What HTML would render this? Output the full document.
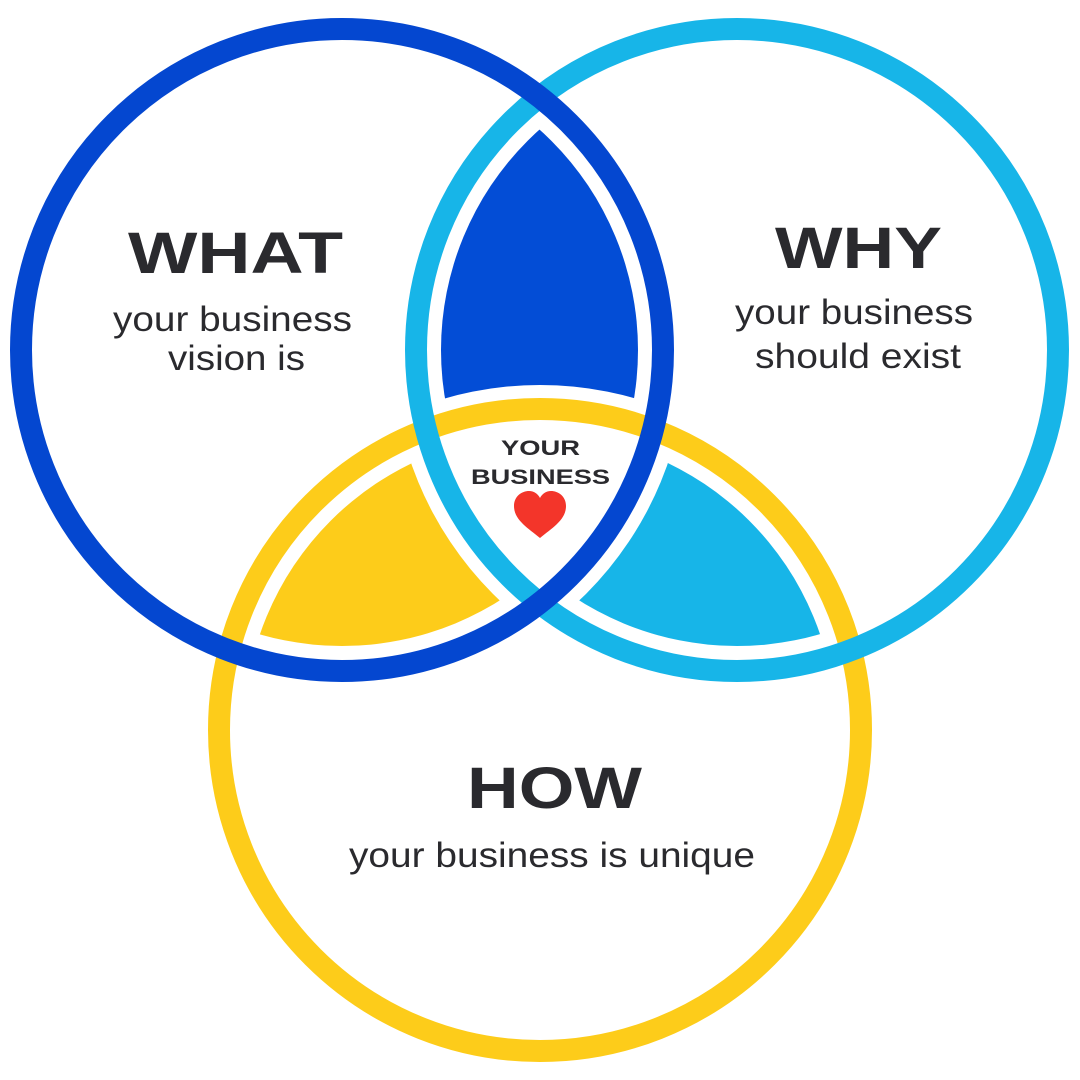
<!DOCTYPE html>
<html><head><meta charset="utf-8"><style>
html,body{margin:0;padding:0;background:#fff}
svg{display:block}
</style></head><body>
<svg width="1080" height="1080" viewBox="0 0 1080 1080" xmlns="http://www.w3.org/2000/svg">
<defs>
<clipPath id="cA"><circle cx="342" cy="350" r="296"/></clipPath>
<clipPath id="cB"><circle cx="737" cy="350" r="296"/></clipPath>
<clipPath id="cC"><circle cx="540" cy="730" r="296"/></clipPath>
<mask id="nC"><rect width="1080" height="1080" fill="#fff"/><circle cx="540" cy="730" r="345" fill="#000"/></mask>
<mask id="nB"><rect width="1080" height="1080" fill="#fff"/><circle cx="737" cy="350" r="345" fill="#000"/></mask>
<mask id="nA"><rect width="1080" height="1080" fill="#fff"/><circle cx="342" cy="350" r="345" fill="#000"/></mask>
</defs>
<rect width="1080" height="1080" fill="#fff"/>
<g clip-path="url(#cA)"><g clip-path="url(#cB)"><rect width="1080" height="1080" fill="#034DD6" mask="url(#nC)"/></g></g>
<g clip-path="url(#cA)"><g clip-path="url(#cC)"><rect width="1080" height="1080" fill="#FDCC1A" mask="url(#nB)"/></g></g>
<g clip-path="url(#cB)"><g clip-path="url(#cC)"><rect width="1080" height="1080" fill="#17B5E8" mask="url(#nA)"/></g></g>
<circle cx="540" cy="730" r="321" fill="none" stroke="#FDCC1A" stroke-width="22"/>
<circle cx="737" cy="350" r="321" fill="none" stroke="#17B5E8" stroke-width="22"/>
<circle cx="342" cy="350" r="321" fill="none" stroke="#0447D0" stroke-width="22"/>
<g font-family="Liberation Sans, sans-serif" fill="#2a2a2e" lengthAdjust="spacingAndGlyphs">
<text x="128" y="273" font-size="58" font-weight="bold" textLength="215" lengthAdjust="spacingAndGlyphs">WHAT</text>
<text x="113" y="331" font-size="35" textLength="239" lengthAdjust="spacingAndGlyphs">your business</text>
<text x="168" y="370" font-size="35" textLength="137" lengthAdjust="spacingAndGlyphs">vision is</text>
<text x="775" y="268" font-size="58" font-weight="bold" textLength="167" lengthAdjust="spacingAndGlyphs">WHY</text>
<text x="735" y="324" font-size="35" textLength="238" lengthAdjust="spacingAndGlyphs">your business</text>
<text x="755" y="368" font-size="35" textLength="206" lengthAdjust="spacingAndGlyphs">should exist</text>
<text x="467" y="808" font-size="58" font-weight="bold" textLength="175" lengthAdjust="spacingAndGlyphs">HOW</text>
<text x="349" y="867" font-size="35" textLength="406" lengthAdjust="spacingAndGlyphs">your business is unique</text>
<text x="501" y="455" font-size="21" font-weight="bold" textLength="79" lengthAdjust="spacingAndGlyphs">YOUR</text>
<text x="471" y="484" font-size="21" font-weight="bold" textLength="139" lengthAdjust="spacingAndGlyphs">BUSINESS</text>
</g>
<path d="M540 538 C528 528 514 520 514 506 C514 496 522 491 529 491 C534 491 538 494 540 498 C542 494 546 491 551 491 C558 491 566 496 566 506 C566 520 552 528 540 538 Z" fill="#F3352A"/>
</svg>
</body></html>
